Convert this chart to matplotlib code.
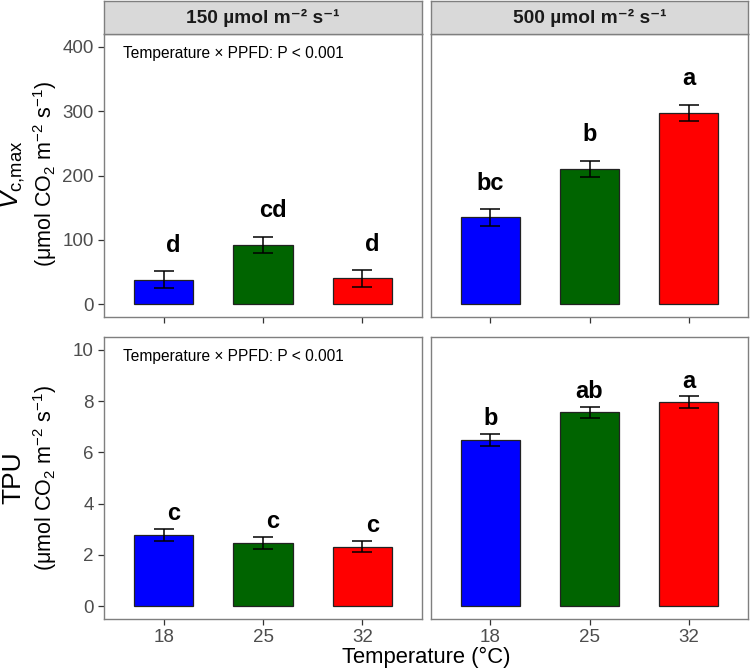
import numpy as np
import matplotlib
matplotlib.use('Agg')
import matplotlib.pyplot as plt

plt.rcParams['font.family'] = ['Liberation Sans', 'DejaVu Sans']
plt.rcParams['mathtext.fontset'] = 'custom'
plt.rcParams['mathtext.rm'] = 'Liberation Sans'
plt.rcParams['mathtext.it'] = 'Liberation Sans:italic'
plt.rcParams['mathtext.bf'] = 'Liberation Sans:bold'

temps = ['18', '25', '32']
ppfd = ['150 µmol m⁻² s⁻¹', '500 µmol m⁻² s⁻¹']
colors = ['#0000FF', '#006400', '#FF0000']

vc_mean = {'150': [38, 92, 40], '500': [135, 210, 297]}
vc_se = {'150': [13, 13, 13], '500': [13, 13, 13]}
vc_let = {'150': ['d', 'cd', 'd'], '500': ['bc', 'b', 'a']}

tpu_mean = {'150': [2.77, 2.47, 2.32], '500': [6.48, 7.56, 7.96]}
tpu_se = {'150': [0.23, 0.23, 0.22], '500': [0.22, 0.22, 0.22]}
tpu_let = {'150': ['c', 'c', 'c'], '500': ['b', 'ab', 'a']}

note = 'Temperature × PPFD: P < 0.001'

W, H = 750, 670
fig = plt.figure(figsize=(W / 100, H / 100), dpi=100)


def px_axes(x0, y0, x1, y1):
    return fig.add_axes([x0 / W, 1 - y1 / H, (x1 - x0) / W, (y1 - y0) / H])


edge = '#7f7f7f'
xs = np.arange(1, 4)
cols = [(104, 422), (431, 748)]
rows = [(34, 317), (337, 619)]
rows_data = [(vc_mean, vc_se, vc_let, (0, 400), [0, 100, 200, 300, 400], 30),
             (tpu_mean, tpu_se, tpu_let, (0, 10), [0, 2, 4, 6, 8, 10], 0.35)]
keys = ['150', '500']
nudge = [0.1, 0.0]

for r, (means, ses, lets, lim, ticks, off) in enumerate(rows_data):
    for c, k in enumerate(keys):
        x0, x1 = cols[c]
        y0, y1 = rows[r]
        ax = px_axes(x0, y0, x1, y1)
        m = np.array(means[k])
        s = np.array(ses[k])
        ax.bar(xs, m, width=0.6, color=colors, edgecolor='#222222', linewidth=0.9, zorder=2)
        ax.errorbar(xs, m, yerr=s, fmt='none', ecolor='black', elinewidth=1.1,
                    capsize=7.5, capthick=1.1, zorder=3)
        for xi, mi, si, lab in zip(xs, m, s, lets[k]):
            ax.text(xi + nudge[c], mi + si + off, lab,
                    ha='center', va='baseline', fontsize=17, fontweight='bold')
        pad = (lim[1] - lim[0]) * 0.05
        ax.set_ylim(lim[0] - pad, lim[1] + pad)
        ax.set_xlim(0.4, 3.6)
        ax.set_xticks(xs)
        ax.set_yticks(ticks)
        for sp in ax.spines.values():
            sp.set_color(edge)
            sp.set_linewidth(1.0)
        ax.tick_params(colors='#333333', labelcolor='#4d4d4d', labelsize=13.5,
                       length=4, width=0.9, direction='out')
        if r == 1:
            ax.set_xticklabels(temps)
        else:
            ax.set_xticklabels([])
        if c == 1:
            ax.set_yticks([])
        else:
            ax.text(0.06, 0.93, note, transform=ax.transAxes, fontsize=11.2,
                    ha='left', va='center')
        if r == 0:
            sx = px_axes(x0, 1, x1, 34)
            sx.set_facecolor('#d9d9d9')
            sx.set_xticks([])
            sx.set_yticks([])
            for sp in sx.spines.values():
                sp.set_color(edge)
                sp.set_linewidth(1.0)
            sx.text(0.5, 0.5, ppfd[c], transform=sx.transAxes, ha='center', va='center',
                    fontsize=13.8, fontweight='bold', color='#1a1a1a')

fig.text(13 / W, 1 - 175 / H, r'$V_{\mathrm{c{,}max}}$', rotation=90, ha='center', va='center', fontsize=19)
fig.text(45 / W, 1 - 174 / H, r'($\mathrm{\mu}$mol CO$_2$ m$^{-2}$ s$^{-1}$)', rotation=90,
         ha='center', va='center', fontsize=15.5)
fig.text(13 / W, 1 - 478 / H, 'TPU', rotation=90, ha='center', va='center', fontsize=19)
fig.text(45 / W, 1 - 478 / H, r'($\mathrm{\mu}$mol CO$_2$ m$^{-2}$ s$^{-1}$)', rotation=90,
         ha='center', va='center', fontsize=15.5)
fig.text(426 / W, 1 - 657 / H, 'Temperature (°C)', ha='center', va='center', fontsize=15.8)

fig.savefig('out.png', dpi=100)
